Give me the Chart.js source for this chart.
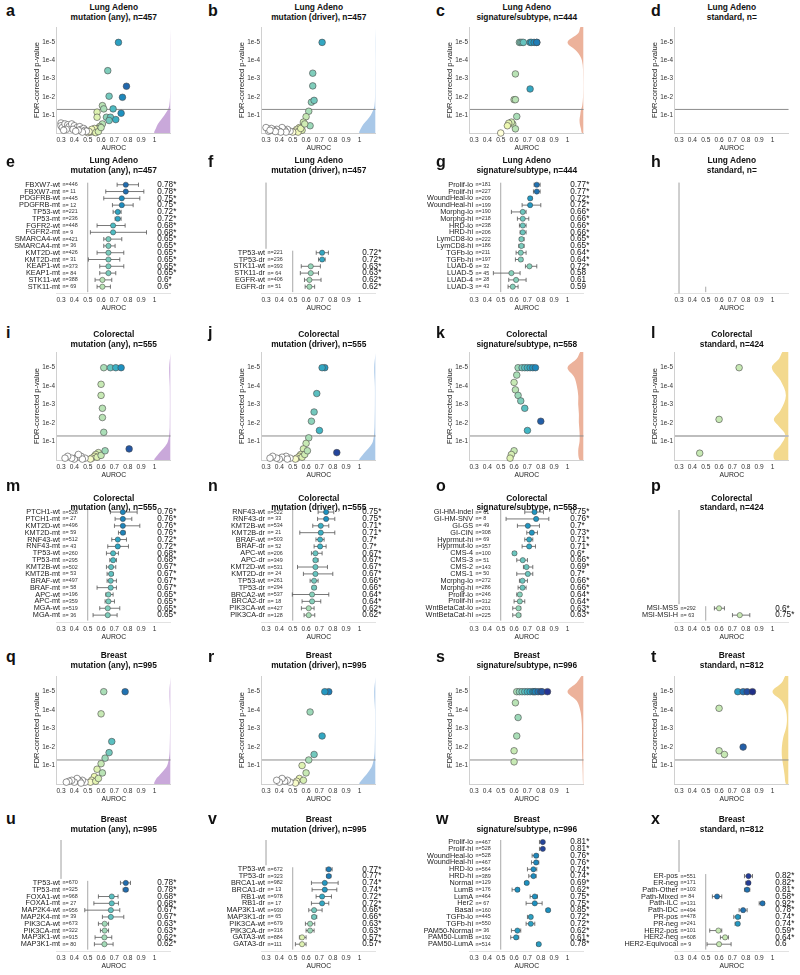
<!DOCTYPE html>
<html>
<head>
<meta charset="utf-8">
<script src="https://cdn.jsdelivr.net/npm/chart.js@4.4.1/dist/chart.umd.min.js"></script>
<style>
  body { margin: 0; width: 800px; height: 975px; position: relative; overflow: hidden; background: #fff;
         font-family: "Liberation Sans", Arial, sans-serif; color: #111; }
  canvas { position: absolute; }
  .letter { position: absolute; font-weight: bold; font-size: 16px; line-height: 16px; }
  .title { position: absolute; width: 200px; text-align: center; font-weight: bold; font-size: 8.4px; line-height: 9.6px; }
</style>
</head>
<body>
<script>
// ---------- shared axis values ----------
const xTicks = [0.3, 0.4, 0.5, 0.6, 0.7, 0.8, 0.9, 1];
const pTicks = [1, 2, 3, 4, 5];          // -log10 p : 1e-1 ... 1e-5
const fdrCut = 0.05;

// ---------- scatter panels (AUROC, -log10 FDR p, colour score) ----------
const aAuc = [0.73,0.65,0.79,0.66,0.76,0.61,0.69,0.62,0.75,0.57,0.57,0.64,0.67,0.66,0.71,0.61,0.59,
              0.52,0.53,0.54,0.55,0.56,0.57,0.58,0.55,0.53,0.50,0.51,0.56,0.58,0.60,
              0.30,0.30,0.31,0.33,0.35,0.36,0.38,0.40,0.42,0.44,0.45,0.47,0.48,0.49,0.46,0.43,0.39,0.34,0.32,0.41];
const aLogP = [5.0,3.44,2.58,2.03,1.97,1.51,1.33,1.33,1.09,1.15,0.87,0.87,0.87,0.69,0.74,0.5,0.36,
               0.05,0.1,0.15,0.05,0.12,0.2,0.25,0.25,0.2,0.02,0.08,0.02,0.08,0.3,
               0.55,0.4,0.3,0.5,0.45,0.35,0.5,0.4,0.3,0.35,0.2,0.25,0.15,0.1,0.05,0.15,0.2,0.2,0.15,0.1];
const aScore = aAuc;
const aViolinY = [0, 0.25, 0.5, 0.75, 1.0, 1.25, 1.5, 2.0, 3.0, 4.0, 5.0, 5.8];
const aViolinW = [0.12, 0.11, 0.095, 0.07, 0.045, 0.022, 0.01, 0.004, 0.002, 0.002, 0.002, 0.0];

const bAuc = [0.72,0.65,0.65,0.64,0.66,0.62,0.6,0.58,0.63,0.55,0.53,0.52,0.57,0.54,0.5,0.56,0.59,
              0.48,0.46,0.44,0.42,0.40,0.38,0.36,0.34,0.32,0.30,0.45,0.41,0.37,0.33];
const bLogP = [5.0,3.3,2.6,1.7,1.8,1.2,0.9,0.6,0.4,0.3,0.2,0.1,0.15,0.05,0.05,0.25,0.5,
               0.1,0.2,0.15,0.3,0.1,0.2,0.15,0.25,0.1,0.3,0.05,0.05,0.08,0.15];
const bScore = bAuc;
const bViolinY = [0, 0.25, 0.5, 0.75, 1.0, 1.25, 1.5, 2.0, 3.0, 4.0, 5.0, 5.8];
const bViolinW = [0.12, 0.11, 0.09, 0.06, 0.035, 0.018, 0.008, 0.004, 0.003, 0.002, 0.003, 0.0];

const cAuc = [0.64,0.65,0.66,0.67,0.72,0.73,0.75,0.77,0.77,0.61,0.72,0.60,0.61,0.62,0.59,0.58,0.56,0.55,0.61,0.50];
const cLogP = [5,5,5,5,5,5,5,5,5,3.26,2.43,1.84,1.84,0.91,0.5,0.6,0.54,0.4,0.23,0.0];
const cScore = cAuc;
const cViolinY = [0, 0.25, 0.5, 0.75, 1.0, 1.25, 1.5, 2.0, 3.0, 4.0, 4.5, 5.0, 5.5, 5.9];
const cViolinW = [0.012, 0.02, 0.028, 0.03, 0.025, 0.02, 0.01, 0.004, 0.003, 0.012, 0.05, 0.12, 0.04, 0.02];

const dAuc = [];
const dLogP = [];
const dScore = [];

const iAuc = [0.62,0.67,0.71,0.75,0.60,0.60,0.61,0.61,0.62,0.81,0.58,0.56,0.55,0.53,0.52,0.57,0.6,0.63,
              0.48,0.45,0.42,0.40,0.38,0.35,0.33,0.46,0.43];
const iLogP = [5,5,5,5,4.1,3.5,2.8,2.3,1.5,0.6,0.4,0.3,0.2,0.1,0.05,0.15,0.25,0.5,
               0.1,0.2,0.15,0.05,0.1,0.2,0.1,0.05,0.3];
const iScore = iAuc;
const iViolinY = [0, 0.25, 0.5, 0.75, 1.0, 1.5, 2.0, 3.0, 4.0, 5.0, 5.8];
const iViolinW = [0.12, 0.1, 0.07, 0.04, 0.02, 0.008, 0.006, 0.005, 0.006, 0.01, 0.0];

const jAuc = [0.74,0.72,0.68,0.66,0.64,0.7,0.62,0.6,0.83,0.58,0.56,0.55,0.53,0.52,0.57,0.59,0.61,
              0.48,0.45,0.42,0.40,0.38,0.35,0.33,0.46];
const jLogP = [5,5,3.6,2.6,2.1,1.6,1.2,0.9,0.4,0.6,0.3,0.2,0.1,0.05,0.15,0.3,0.5,
               0.1,0.2,0.15,0.05,0.1,0.2,0.1,0.05];
const jScore = jAuc;
const jViolinY = [0, 0.25, 0.5, 0.75, 1.0, 1.5, 2.0, 3.0, 4.0, 5.0, 5.8];
const jViolinW = [0.12, 0.1, 0.07, 0.04, 0.02, 0.01, 0.007, 0.005, 0.005, 0.01, 0.0];

const kAuc = [0.63,0.66,0.68,0.7,0.72,0.74,0.76,0.62,0.6,0.61,0.63,0.65,0.68,0.8,0.7,0.6,0.58,0.57];
const kLogP = [5,5,5,5,5,5,5,4.6,4.2,3.8,3.5,3.2,2.8,2.1,1.6,0.5,0.3,0.1];
const kScore = kAuc;
const kViolinY = [0, 0.5, 1.0, 1.5, 2.0, 2.5, 3.0, 3.5, 4.0, 4.5, 5.0, 5.5, 5.9];
const kViolinW = [0.03, 0.04, 0.03, 0.03, 0.035, 0.035, 0.04, 0.04, 0.05, 0.07, 0.12, 0.05, 0.02];

const lAuc = [0.75, 0.60, 0.455];
const lLogP = [5.0, 2.2, 0.37];
const lScore = [0.6, 0.6, 0.6];
const lViolinY = [0, 0.37, 0.8, 1.35, 1.8, 2.2, 2.7, 3.5, 4.3, 5.0, 5.5, 5.9];
const lViolinW = [0.1, 0.11, 0.06, 0.025, 0.07, 0.11, 0.06, 0.02, 0.06, 0.125, 0.07, 0.04];

const qAuc = [0.78,0.62,0.6,0.68,0.66,0.63,0.6,0.57,0.55,0.53,0.52,0.56,0.58,0.61,
              0.48,0.46,0.44,0.42,0.40,0.38,0.36,0.34,0.45];
const qLogP = [5,5,3.8,2.3,1.7,1.4,1.1,0.8,0.4,0.2,0.1,0.15,0.3,0.6,
               0.1,0.2,0.15,0.3,0.1,0.2,0.15,0.1,0.05];
const qScore = qAuc;
const qViolinY = [0, 0.25, 0.5, 0.75, 1.0, 1.5, 2.0, 3.0, 4.0, 5.0, 5.8];
const qViolinW = [0.12, 0.11, 0.08, 0.05, 0.025, 0.01, 0.006, 0.004, 0.004, 0.008, 0.0];

const rAuc = [0.77,0.74,0.63,0.72,0.66,0.62,0.57,0.6,0.55,0.53,0.52,0.58,
              0.48,0.46,0.44,0.42,0.40,0.38];
const rLogP = [5,5,3.9,2.6,1.6,1.3,1.0,0.6,0.3,0.15,0.05,0.2,
               0.1,0.2,0.15,0.3,0.1,0.2];
const rScore = rAuc;
const rViolinY = [0, 0.25, 0.5, 0.75, 1.0, 1.5, 2.0, 3.0, 4.0, 5.0, 5.8];
const rViolinW = [0.12, 0.1, 0.07, 0.045, 0.025, 0.01, 0.006, 0.004, 0.004, 0.01, 0.0];

const sAuc = [0.62,0.64,0.66,0.68,0.70,0.72,0.74,0.75,0.76,0.78,0.8,0.81,0.85,0.61,0.63,0.62,0.6,0.6];
const sLogP = [5,5,5,5,5,5,5,5,5,5,5,5,5,4.4,3.6,2.6,1.8,1.2];
const sScore = sAuc;
const sViolinY = [0, 0.5, 1.0, 1.5, 2.0, 2.5, 3.0, 3.5, 4.0, 4.5, 5.0, 5.5, 5.9];
const sViolinW = [0.004, 0.006, 0.008, 0.01, 0.012, 0.012, 0.012, 0.015, 0.025, 0.05, 0.12, 0.05, 0.01];

const tAuc = [0.74,0.78,0.81,0.85,0.6,0.6,0.78,0.64];
const tLogP = [5,5,5,5,4.1,1.8,2.0,1.6];
const tScore = [0.74,0.78,0.82,0.86,0.6,0.6,0.8,0.6];
const tViolinY = [0, 0.5, 1.0, 1.5, 2.0, 2.5, 3.0, 3.5, 4.0, 4.5, 5.0, 5.5, 5.9];
const tViolinW = [0.02, 0.03, 0.04, 0.05, 0.05, 0.04, 0.02, 0.012, 0.02, 0.05, 0.12, 0.05, 0.02];

// ---------- forest panels ----------
const eLabels = ['FBXW7-wt','FBXW7-mt','PDGFRB-wt','PDGFRB-mt','TP53-wt','TP53-mt','FGFR2-wt','FGFR2-mt',
                 'SMARCA4-wt','SMARCA4-mt','KMT2D-wt','KMT2D-mt','KEAP1-wt','KEAP1-mt','STK11-wt','STK11-mt'];
const eN = [446,11,445,12,221,236,448,9,421,36,426,31,373,84,388,69];
const eAuc = [0.785,0.785,0.755,0.755,0.725,0.725,0.69,0.69,0.655,0.655,0.655,0.655,0.655,0.655,0.61,0.61];
const eLo = [0.72,0.635,0.62,0.685,0.69,0.705,0.57,0.52,0.62,0.62,0.57,0.505,0.59,0.59,0.555,0.57];
const eHi = [0.88,0.92,0.89,0.84,0.75,0.75,0.78,0.94,0.755,0.705,0.77,0.74,0.77,0.71,0.68,0.67];
const eText = ['0.78*','0.78*','0.75*','0.75*','0.72*','0.72*','0.68*','0.68*','0.65*','0.65*','0.65*','0.65*','0.65*','0.65*','0.6*','0.6*'];
const eScore = eAuc;

const fLabels = ['TP53-wt','TP53-dr','STK11-wt','STK11-dr','EGFR-wt','EGFR-dr'];
const fN = [221,236,393,64,406,51];
const fAuc = [0.72,0.72,0.635,0.635,0.625,0.625];
const fLo = [0.676,0.693,0.564,0.557,0.588,0.593];
const fHi = [0.767,0.743,0.707,0.693,0.712,0.664];
const fText = ['0.72*','0.72*','0.63*','0.63*','0.62*','0.62*'];
const fScore = fAuc;

const gLabels = ['Prolif-lo','Prolif-hi','WoundHeal-lo','WoundHeal-hi','Morphg-lo','Morphg-hi','HRD-lo','HRD-hi',
                 'LymCD8-lo','LymCD8-hi','TGFb-lo','TGFb-hi','LUAD-6','LUAD-5','LUAD-4','LUAD-3'];
const gN = [181,227,209,199,190,218,238,206,222,186,211,197,32,45,28,43];
const gAuc = [0.77,0.77,0.72,0.72,0.665,0.665,0.665,0.665,0.655,0.655,0.65,0.65,0.715,0.58,0.615,0.59];
const gLo = [0.75,0.745,0.71,0.66,0.58,0.625,0.64,0.645,0.64,0.635,0.615,0.61,0.685,0.445,0.56,0.555];
const gHi = [0.795,0.795,0.735,0.80,0.69,0.71,0.69,0.69,0.675,0.675,0.69,0.665,0.77,0.645,0.69,0.63];
const gText = ['0.77*','0.77*','0.72*','0.72*','0.66*','0.66*','0.66*','0.66*','0.65*','0.65*','0.64*','0.64*','0.72*','0.58','0.61','0.59'];
const gScore = [0.78,0.78,0.74,0.74,0.665,0.665,0.665,0.665,0.655,0.655,0.65,0.65,0.645,0.645,0.645,0.645];

const hLabels = [];
const hN = [];
const hAuc = [];
const hLo = [];
const hHi = [];
const hText = [];
const hScore = [];

const mLabels = ['PTCH1-wt','PTCH1-mt','KMT2D-wt','KMT2D-mt','RNF43-wt','RNF43-mt','TP53-wt','TP53-mt',
                 'KMT2B-wt','KMT2B-mt','BRAF-wt','BRAF-mt','APC-wt','APC-mt','MGA-wt','MGA-mt'];
const mN = [528,27,496,59,512,43,260,295,502,53,497,58,196,359,519,36];
const mAuc = [0.763,0.763,0.763,0.763,0.725,0.725,0.69,0.69,0.675,0.675,0.672,0.672,0.655,0.655,0.65,0.65];
const mLo = [0.67,0.705,0.70,0.73,0.68,0.65,0.64,0.665,0.64,0.645,0.645,0.57,0.635,0.63,0.59,0.54];
const mHi = [0.87,0.83,0.89,0.78,0.79,0.805,0.73,0.715,0.71,0.69,0.715,0.715,0.69,0.70,0.74,0.72];
const mText = ['0.76*','0.76*','0.76*','0.76*','0.72*','0.72*','0.68*','0.68*','0.67*','0.67*','0.67*','0.67*','0.65*','0.65*','0.65*','0.65*'];
const mScore = mAuc;

const nLabels = ['RNF43-wt','RNF43-dr','KMT2B-wt','KMT2B-dr','BRAF-wt','BRAF-dr','APC-wt','APC-dr',
                 'KMT2D-wt','KMT2D-dr','TP53-wt','TP53-dr','BRCA2-wt','BRCA2-dr','PIK3CA-wt','PIK3CA-dr'];
const nN = [522,33,534,21,503,52,206,349,531,24,261,294,537,18,427,128];
const nAuc = [0.75,0.75,0.71,0.71,0.705,0.705,0.67,0.67,0.67,0.67,0.66,0.66,0.645,0.645,0.62,0.62];
const nLo = [0.69,0.686,0.65,0.553,0.674,0.66,0.64,0.655,0.536,0.58,0.63,0.645,0.497,0.57,0.565,0.585];
const nHi = [0.807,0.815,0.77,0.815,0.735,0.75,0.72,0.69,0.76,0.80,0.69,0.675,0.77,0.71,0.66,0.665];
const nText = ['0.75*','0.75*','0.71*','0.71*','0.7*','0.7*','0.67*','0.67*','0.67*','0.67*','0.66*','0.66*','0.64*','0.64*','0.62*','0.62*'];
const nScore = nAuc;

const oLabels = ['GI-HM-indel','GI-HM-SNV','GI-GS','GI-CIN','Hyprmut-hi','Hyprmut-lo','CMS-4','CMS-3',
                 'CMS-2','CMS-1','Mcrphg-lo','Mcrphg-hi','Prolif-lo','Prolif-hi','WntBetaCat-lo','WntBetaCat-hi'];
const oN = [61,8,49,308,69,357,100,51,143,50,272,286,246,312,201,225];
const oAuc = [0.753,0.765,0.703,0.733,0.713,0.713,0.603,0.665,0.693,0.703,0.663,0.663,0.643,0.643,0.633,0.633];
const oLo = [0.68,0.54,0.625,0.695,0.68,0.66,0.59,0.62,0.67,0.62,0.64,0.63,0.62,0.60,0.59,0.59];
const oHi = [0.82,0.86,0.79,0.775,0.74,0.76,0.615,0.70,0.74,0.74,0.70,0.69,0.65,0.68,0.65,0.65];
const oText = ['0.75*','0.76*','0.7*','0.73*','0.71*','0.71*','0.6*','0.66*','0.69*','0.7*','0.66*','0.66*','0.64*','0.64*','0.63*','0.63*'];
const oScore = [0.745,0.745,0.745,0.745,0.72,0.72,0.665,0.665,0.665,0.665,0.665,0.665,0.645,0.645,0.635,0.635];

const pLabels = ['MSI-MSS','MSI-MSI-H'];
const pN = [292,63];
const pAuc = [0.6,0.755];
const pLo = [0.565,0.70];
const pHi = [0.64,0.83];
const pText = ['0.6*','0.75*'];
const pScore = [0.6,0.6];

const uLabels = ['TP53-wt','TP53-mt','FOXA1-wt','FOXA1-mt','MAP2K4-wt','MAP2K4-mt','PIK3CA-wt','PIK3CA-mt','MAP3K1-wt','MAP3K1-mt'];
const uN = [670,325,968,27,956,39,673,322,915,80];
const uAuc = [0.785,0.785,0.68,0.68,0.673,0.673,0.627,0.627,0.625,0.625];
const uLo = [0.745,0.765,0.58,0.546,0.478,0.61,0.58,0.595,0.555,0.55];
const uHi = [0.82,0.80,0.727,0.73,0.74,0.77,0.656,0.656,0.68,0.69];
const uText = ['0.78*','0.78*','0.68*','0.68*','0.67*','0.67*','0.63*','0.63*','0.62*','0.62*'];
const uScore = uAuc;

const vLabels = ['TP53-wt','TP53-dr','BRCA1-wt','BRCA1-dr','RB1-wt','RB1-dr','MAP3K1-wt','MAP3K1-dr',
                 'PIK3CA-wt','PIK3CA-dr','GATA3-wt','GATA3-dr'];
const vN = [672,323,982,13,978,17,930,65,679,316,884,111];
const vAuc = [0.77,0.77,0.74,0.74,0.72,0.72,0.66,0.66,0.63,0.63,0.57,0.57];
const vLo = [0.75,0.755,0.64,0.645,0.675,0.64,0.62,0.645,0.595,0.6,0.55,0.52];
const vHi = [0.795,0.785,0.84,0.83,0.79,0.77,0.72,0.68,0.665,0.66,0.6,0.6];
const vText = ['0.77*','0.77*','0.74*','0.74*','0.72*','0.72*','0.66*','0.66*','0.63*','0.63*','0.57*','0.57*'];
const vScore = vAuc;

const wLabels = ['Prolif-lo','Prolif-hi','WoundHeal-lo','WoundHeal-hi','HRD-lo','HRD-hi','Normal','LumB','LumA','Her2',
                 'Basal','TGFb-lo','TGFb-hi','PAM50-Normal','PAM50-LumB','PAM50-LumA'];
const wN = [467,528,528,467,564,389,129,176,464,67,160,445,550,36,192,514];
const wAuc = [0.815,0.815,0.765,0.765,0.745,0.745,0.695,0.625,0.755,0.755,0.855,0.725,0.725,0.625,0.615,0.785];
const wLo = [0.79,0.79,0.735,0.73,0.70,0.71,0.68,0.585,0.72,0.69,0.84,0.70,0.69,0.58,0.575,0.77];
const wHi = [0.82,0.82,0.78,0.785,0.77,0.765,0.70,0.64,0.775,0.81,0.867,0.735,0.755,0.65,0.635,0.79];
const wText = ['0.81*','0.81*','0.76*','0.76*','0.74*','0.74*','0.69*','0.62*','0.75*','0.75*','0.85*','0.72*','0.72*','0.62*','0.61*','0.78*'];
const wScore = [0.83,0.83,0.76,0.76,0.755,0.755,0.75,0.75,0.75,0.75,0.75,0.73,0.73,0.735,0.735,0.735];

const xLabels = ['ER-pos','ER-neg','Path-Other','Path-Mixed','Path-ILC','Path-IDC','PR-pos','PR-neg',
                 'HER2-pos','HER2-neg','HER2-Equivocal'];
const xN = [551,171,103,84,131,494,478,241,101,608,9];
const xAuc = [0.82,0.82,0.81,0.585,0.925,0.78,0.74,0.74,0.595,0.645,0.6];
const xLo = [0.79,0.80,0.79,0.55,0.90,0.75,0.71,0.72,0.53,0.61,0.51];
const xHi = [0.85,0.83,0.83,0.62,0.94,0.81,0.76,0.75,0.62,0.67,0.69];
const xText = ['0.82*','0.82*','0.81*','0.58*','0.92*','0.78*','0.74*','0.74*','0.59*','0.64*','0.6'];
const xScore = [0.84,0.84,0.78,0.78,0.78,0.78,0.74,0.74,0.6,0.6,0.6];

// ---------- layout ----------
const col03 = [61, 266, 474, 679];       // pixel of AUROC 0.3 in each column
const pxPer = 133.6;                      // pixels per AUROC unit
const xMin = 0.27, xMax = 1.12;
const scatterRows = [[27, 133], [352, 460], [676, 784]];
const forestRows = [[182.7, 293.5], [510, 622], [840, 951]];
const yScatter = [0, 5.85];
const slotRange = [-1, 15.3];
const violinColors = ['#c9a8da', '#a9c8e8', '#ecb29b', '#f3d98e'];
const FONT = '"Liberation Sans", Arial, sans-serif';

const ylgnbu = ['#ffffd9','#edf8b1','#c7e9b4','#7fcdbb','#41b6c4','#1d91c0','#225ea8','#253494','#081d58'];
function hex(c) { return [1,3,5].map(i => parseInt(c.slice(i, i + 2), 16)); }
function scoreColor(v) {
  if (v < 0.5) return '#ffffff';
  const t = Math.min(1, (v - 0.5) / 0.4) * (ylgnbu.length - 1);
  const i = Math.min(ylgnbu.length - 2, Math.floor(t)), f = t - i;
  const a = hex(ylgnbu[i]), b = hex(ylgnbu[i + 1]);
  return 'rgb(' + a.map((c, k) => Math.round(c + (b[k] - c) * f)).join(',') + ')';
}

function addDiv(cls, html, left, top) {
  const d = document.createElement('div');
  d.className = cls; d.innerHTML = html;
  d.style.left = left + 'px'; d.style.top = top + 'px';
  document.body.appendChild(d);
}

function addCanvas(left, top, w, h) {
  const c = document.createElement('canvas');
  c.width = w; c.height = h;
  c.style.left = left + 'px'; c.style.top = top + 'px';
  c.style.width = w + 'px'; c.style.height = h + 'px';
  document.body.appendChild(c);
  return c;
}

function xScale() {
  return {
    type: 'linear', min: xMin, max: xMax,
    afterBuildTicks: s => { s.ticks = xTicks.map(v => ({ value: v })); },
    afterFit: s => { s.height = 19; },
    grid: { display: false, drawTicks: false },
    border: { display: true, color: '#d0d0d0', width: 1 },
    ticks: { autoSkip: false, maxRotation: 0, padding: 3, color: '#333',
             font: { family: FONT, size: 6.6 }, callback: v => (v === 1 ? '1' : v.toFixed(1)) },
    title: { display: true, text: 'AUROC', color: '#222', padding: { top: 0, bottom: 0 },
             font: { family: FONT, size: 6.8 } }
  };
}

function frame(col, top, bottom) {
  const plotLeft = col03[col] - (0.3 - xMin) * pxPer;
  const plotW = (xMax - xMin) * pxPer;
  const cLeft = Math.round(plotLeft - 60), cTop = Math.floor(top - 8);
  const w = Math.ceil(60 + plotW + 20), h = Math.ceil(bottom - cTop + 24);
  return { plotLeft, plotW, cLeft, cTop, w, h,
           pad: { left: plotLeft - cLeft, top: top - cTop, right: w - (plotLeft - cLeft) - plotW, bottom: h - (bottom - cTop) - 19 } };
}

function heading(col, letter, t1, t2, titleY, letterY) {
  const cx = col03[col] - (0.3 - xMin) * pxPer + (xMax - xMin) * pxPer / 2;
  const lx = [6, 208, 436, 651][col];
  addDiv('letter', letter, lx, letterY - 9);
  addDiv('title', t1 + '<br>' + t2, cx - 100, titleY - 5);
}

function scatterPanel(col, row, auc, logp, score, vy, vw, cutStyle) {
  const [top, bottom] = scatterRows[row];
  const fr = frame(col, top, bottom);
  const cv = addCanvas(fr.cLeft, fr.cTop, fr.w, fr.h);
  const cs = cutStyle || { color: '#8c8c8c', width: 1 };
  const datasets = [{
    type: 'scatter', order: 0, clip: false,
    data: auc.map((a, i) => ({ x: a, y: logp[i] })),
    pointRadius: 3.3, pointBorderWidth: 0.6, pointBorderColor: '#4a4a4a',
    pointBackgroundColor: score.map(scoreColor)
  }, {
    type: 'line', order: 1, clip: false,
    data: [{ x: xMin, y: -Math.log10(fdrCut) }, { x: xMax, y: -Math.log10(fdrCut) }],
    borderColor: cs.color, borderWidth: cs.width, pointRadius: 0
  }];
  if (vy) {
    const pts = [{ x: xMax, y: vy[0] }].concat(vy.map((y, i) => ({ x: xMax - vw[i], y })), [{ x: xMax, y: vy[vy.length - 1] }]);
    datasets.push({
      type: 'line', order: 2, clip: false, data: pts, fill: 'shape', tension: 0.35,
      backgroundColor: violinColors[col], borderWidth: 0, borderColor: 'rgba(0,0,0,0)', pointRadius: 0
    });
  }
  new Chart(cv, {
    type: 'scatter',
    data: { datasets },
    options: {
      responsive: false, animation: false, devicePixelRatio: 1,
      layout: { padding: { left: fr.pad.left - 25, top: fr.pad.top, right: fr.pad.right, bottom: fr.pad.bottom } },
      plugins: { legend: { display: false }, tooltip: { enabled: false } },
      scales: {
        x: xScale(),
        y: {
          type: 'linear', min: yScatter[0], max: yScatter[1],
          afterBuildTicks: s => { s.ticks = pTicks.map(v => ({ value: v })); },
          afterFit: s => { s.width = 25; },
          grid: { display: false, drawTicks: false },
          border: { display: true, color: '#d0d0d0', width: 1 },
          ticks: { padding: 2, color: '#333', font: { family: FONT, size: 6.4 }, callback: v => '1e-' + v },
          title: { display: true, text: 'FDR-corrected p-value', color: '#222', padding: { top: 0, bottom: 0 },
                   font: { family: FONT, size: 7.5 } }
        }
      }
    }
  });
}

const rowText = {
  id: 'rowText',
  afterDatasetsDraw(chart, args, o) {
    const { ctx } = chart, x = chart.scales.x, y = chart.scales.y;
    const x0 = x.getPixelForValue(0.3), xv = x.getPixelForValue(1.02);
    ctx.save();
    ctx.textBaseline = 'middle';
    o.labels.forEach((lab, i) => {
      const py = y.getPixelForValue(o.slots[i]);
      ctx.fillStyle = '#222';
      ctx.font = '7.3px ' + FONT; ctx.textAlign = 'right';
      ctx.fillText(lab, x0 - 1, py);
      ctx.font = '5.4px ' + FONT; ctx.textAlign = 'left'; ctx.fillStyle = '#333';
      ctx.fillText('n=' + (o.ns[i] < 100 ? ' ' : '') + o.ns[i], x0 + 1.5, py);
      ctx.font = '8.2px ' + FONT; ctx.fillStyle = '#111';
      ctx.fillText(o.texts[i], xv, py);
    });
    ctx.restore();
  }
};

function forestPanel(col, row, labels, ns, auc, lo, hi, texts, score) {
  const [top, bottom] = forestRows[row];
  const fr = frame(col, top, bottom);
  const cv = addCanvas(fr.cLeft, fr.cTop, fr.w, fr.h);
  const k = labels.length;
  const slots = labels.map((_, i) => k - 1 - i);
  const datasets = [{
    type: 'scatter', order: 0, clip: false,
    data: auc.map((a, i) => ({ x: a, y: slots[i] })),
    pointRadius: 2.6, pointBorderWidth: 0.5, pointBorderColor: '#3a3a3a',
    pointBackgroundColor: score.map(scoreColor)
  }];
  lo.forEach((l, i) => datasets.push({
    type: 'line', order: 1, clip: false,
    data: [{ x: l, y: slots[i] }, { x: hi[i], y: slots[i] }],
    borderColor: '#555', borderWidth: 0.8,
    pointStyle: 'line', pointRotation: 90, pointRadius: 2.1, pointBorderColor: '#555', pointBorderWidth: 0.8
  }));
  // reference line at chance level and the left frame above the rows
  datasets.push({
    type: 'line', order: 2, clip: false,
    data: [{ x: 0.5, y: -0.8 }, { x: 0.5, y: Math.max(k - 0.7, 0) }],
    borderColor: '#a8a8a8', borderWidth: 1, pointRadius: 0
  });
  if (k < 16) datasets.push({
    type: 'line', order: 2, clip: false,
    data: [{ x: 0.3, y: slotRange[1] }, { x: 0.3, y: k > 0 ? k - 0.4 : slotRange[0] }],
    borderColor: '#c8c8c8', borderWidth: 1, pointRadius: 0
  });
  new Chart(cv, {
    type: 'scatter',
    data: { datasets },
    options: {
      responsive: false, animation: false, devicePixelRatio: 1,
      layout: { padding: fr.pad },
      plugins: { legend: { display: false }, tooltip: { enabled: false },
                 rowText: { labels, ns, texts, slots } },
      scales: {
        x: Object.assign(xScale(), { border: { display: true, color: '#e2e2e2', width: 1 } }),
        y: { type: 'linear', display: false, min: slotRange[0], max: slotRange[1] }
      }
    },
    plugins: [rowText]
  });
}

// ---------- build the figure ----------
const tY = [8.3, 161, 335, 498.5, 656, 820];
const lY = [12, 163, 334, 487, 658, 820];

heading(0, 'a', 'Lung Adeno', 'mutation (any), n=457', tY[0], lY[0]);
heading(1, 'b', 'Lung Adeno', 'mutation (driver), n=457', tY[0], lY[0]);
heading(2, 'c', 'Lung Adeno', 'signature/subtype, n=444', tY[0], lY[0]);
heading(3, 'd', 'Lung Adeno', 'standard, n=', tY[0], lY[0]);
scatterPanel(0, 0, aAuc, aLogP, aScore, aViolinY, aViolinW);
scatterPanel(1, 0, bAuc, bLogP, bScore, bViolinY, bViolinW);
scatterPanel(2, 0, cAuc, cLogP, cScore, cViolinY, cViolinW);
scatterPanel(3, 0, dAuc, dLogP, dScore, null, null);

heading(0, 'e', 'Lung Adeno', 'mutation (any), n=457', tY[1], lY[1]);
heading(1, 'f', 'Lung Adeno', 'mutation (driver), n=457', tY[1], lY[1]);
heading(2, 'g', 'Lung Adeno', 'signature/subtype, n=444', tY[1], lY[1]);
heading(3, 'h', 'Lung Adeno', 'standard, n=', tY[1], lY[1]);
forestPanel(0, 0, eLabels, eN, eAuc, eLo, eHi, eText, eScore);
forestPanel(1, 0, fLabels, fN, fAuc, fLo, fHi, fText, fScore);
forestPanel(2, 0, gLabels, gN, gAuc, gLo, gHi, gText, gScore);
forestPanel(3, 0, hLabels, hN, hAuc, hLo, hHi, hText, hScore);

heading(0, 'i', 'Colorectal', 'mutation (any), n=555', tY[2], lY[2]);
heading(1, 'j', 'Colorectal', 'mutation (driver), n=555', tY[2], lY[2]);
heading(2, 'k', 'Colorectal', 'signature/subtype, n=558', tY[2], lY[2]);
heading(3, 'l', 'Colorectal', 'standard, n=424', tY[2], lY[2]);
scatterPanel(0, 1, iAuc, iLogP, iScore, iViolinY, iViolinW);
scatterPanel(1, 1, jAuc, jLogP, jScore, jViolinY, jViolinW);
scatterPanel(2, 1, kAuc, kLogP, kScore, kViolinY, kViolinW);
scatterPanel(3, 1, lAuc, lLogP, lScore, lViolinY, lViolinW, { color: '#bdbdbd', width: 2 });

heading(0, 'm', 'Colorectal', 'mutation (any), n=555', tY[3], lY[3]);
heading(1, 'n', 'Colorectal', 'mutation (driver), n=555', tY[3], lY[3]);
heading(2, 'o', 'Colorectal', 'signature/subtype, n=558', tY[3], lY[3]);
heading(3, 'p', 'Colorectal', 'standard, n=424', tY[3], lY[3]);
forestPanel(0, 1, mLabels, mN, mAuc, mLo, mHi, mText, mScore);
forestPanel(1, 1, nLabels, nN, nAuc, nLo, nHi, nText, nScore);
forestPanel(2, 1, oLabels, oN, oAuc, oLo, oHi, oText, oScore);
forestPanel(3, 1, pLabels, pN, pAuc, pLo, pHi, pText, pScore);

heading(0, 'q', 'Breast', 'mutation (any), n=995', tY[4], lY[4]);
heading(1, 'r', 'Breast', 'mutation (driver), n=995', tY[4], lY[4]);
heading(2, 's', 'Breast', 'signature/subtype, n=996', tY[4], lY[4]);
heading(3, 't', 'Breast', 'standard, n=812', tY[4], lY[4]);
scatterPanel(0, 2, qAuc, qLogP, qScore, qViolinY, qViolinW);
scatterPanel(1, 2, rAuc, rLogP, rScore, rViolinY, rViolinW);
scatterPanel(2, 2, sAuc, sLogP, sScore, sViolinY, sViolinW);
scatterPanel(3, 2, tAuc, tLogP, tScore, tViolinY, tViolinW);

heading(0, 'u', 'Breast', 'mutation (any), n=995', tY[5], lY[5]);
heading(1, 'v', 'Breast', 'mutation (driver), n=995', tY[5], lY[5]);
heading(2, 'w', 'Breast', 'signature/subtype, n=996', tY[5], lY[5]);
heading(3, 'x', 'Breast', 'standard, n=812', tY[5], lY[5]);
forestPanel(0, 2, uLabels, uN, uAuc, uLo, uHi, uText, uScore);
forestPanel(1, 2, vLabels, vN, vAuc, vLo, vHi, vText, vScore);
forestPanel(2, 2, wLabels, wN, wAuc, wLo, wHi, wText, wScore);
forestPanel(3, 2, xLabels, xN, xAuc, xLo, xHi, xText, xScore);
</script>
</body>
</html>
